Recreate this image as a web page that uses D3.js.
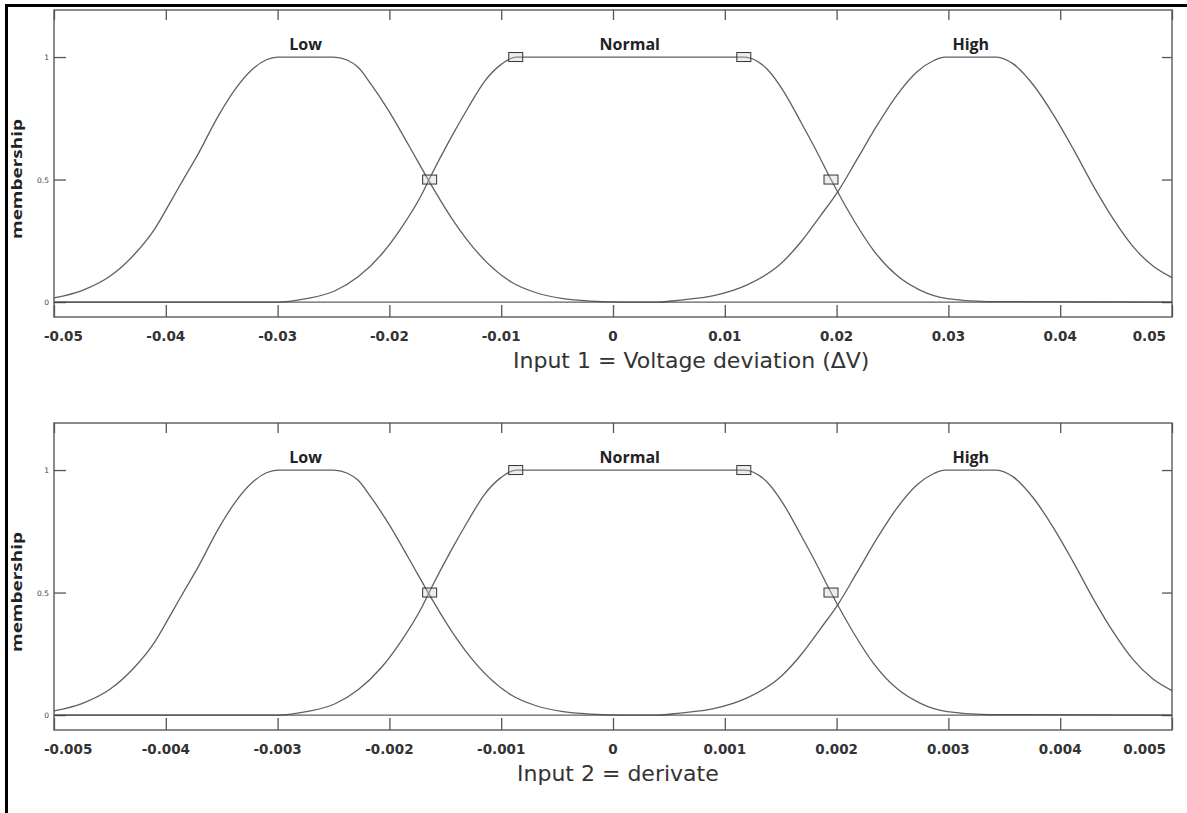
<!DOCTYPE html>
<html>
<head>
<meta charset="utf-8">
<script src="https://cdn.jsdelivr.net/npm/d3@7"></script>
<style>
    body { margin: 0; background: #fff; }
</style>
</head>
<body>
<svg id="chart"></svg>
<script>
// membership values (same shape in both panels)
var lowY    = [0.017, 0.047, 0.105, 0.195, 0.298, 0.415, 0.503, 0.605, 0.76, 0.868, 0.948, 0.989, 1, 1, 0.988, 0.958, 0.886, 0.783, 0.642, 0.497, 0.347, 0.251, 0.158, 0.082, 0.04, 0.015, 0.004, 0, 0]
var normalY = [0, 0, 0.015, 0.045, 0.103, 0.195, 0.305, 0.44, 0.505, 0.67, 0.79, 0.9, 0.97, 1, 1, 0.95, 0.857, 0.735, 0.634, 0.5, 0.333, 0.211, 0.108, 0.048, 0.014, 0.002, 0]
var highY   = [0, 0, 0.008, 0.026, 0.07, 0.156, 0.245, 0.355, 0.45, 0.58, 0.72, 0.845, 0.94, 0.986, 1, 1, 0.972, 0.886, 0.764, 0.622, 0.471, 0.335, 0.227, 0.147, 0.1]

// input 1 : voltage deviation
var lowX1    = [-0.05, -0.0475, -0.045, -0.0428, -0.041, -0.0395, -0.0384, -0.0371, -0.0353, -0.0338, -0.0323, -0.031, -0.03, -0.025, -0.0238, -0.0228, -0.0216, -0.0201, -0.0183, -0.0165, -0.0145, -0.013, -0.0112, -0.0091, -0.007, -0.0046, -0.002, 0.001, 0.05]
var normalX1 = [-0.05, -0.03, -0.0273, -0.0249, -0.0228, -0.0207, -0.0189, -0.0171, -0.0164, -0.0145, -0.013, -0.0115, -0.01, -0.0087, 0.0117, 0.0138, 0.0153, 0.0168, 0.018, 0.0195, 0.02155, 0.0233, 0.0254, 0.0275, 0.0299, 0.0335, 0.05]
var highX1   = [-0.05, 0.004, 0.006, 0.009, 0.012, 0.015, 0.0168, 0.0186, 0.0201, 0.0218, 0.0236, 0.0254, 0.0272, 0.0287, 0.0297, 0.0343, 0.0358, 0.0376, 0.0394, 0.0412, 0.043, 0.0448, 0.0465, 0.0483, 0.05]

// input 2 : derivate
var lowX2    = [-0.005, -0.00475, -0.0045, -0.00428, -0.0041, -0.00395, -0.00384, -0.00371, -0.00353, -0.00338, -0.00323, -0.0031, -0.003, -0.0025, -0.00238, -0.00228, -0.00216, -0.00201, -0.00183, -0.00165, -0.00145, -0.0013, -0.00112, -0.00091, -0.0007, -0.00046, -0.0002, 0.0001, 0.005]
var normalX2 = [-0.005, -0.003, -0.00273, -0.00249, -0.00228, -0.00207, -0.00189, -0.00171, -0.00164, -0.00145, -0.0013, -0.00115, -0.001, -0.00087, 0.00117, 0.00138, 0.00153, 0.00168, 0.0018, 0.00195, 0.002155, 0.00233, 0.00254, 0.00275, 0.00299, 0.00335, 0.005]
var highX2   = [-0.005, 0.0004, 0.0006, 0.0009, 0.0012, 0.0015, 0.00168, 0.00186, 0.00201, 0.00218, 0.00236, 0.00254, 0.00272, 0.00287, 0.00297, 0.00343, 0.00358, 0.00376, 0.00394, 0.00412, 0.0043, 0.00448, 0.00465, 0.00483, 0.005]

// markers on the Normal function
var markerY  = [0.5, 1, 1, 0.5]
var markerX1 = [-0.0164, -0.0087, 0.0117, 0.0195]
var markerX2 = [-0.00164, -0.00087, 0.00117, 0.00195]

var mfNames = ['Low', 'Normal', 'High']
var nameX1 = [-0.0275, 0.0015, 0.032]
var nameX2 = [-0.00275, 0.00015, 0.0032]

var ticks1 = [-0.05, -0.04, -0.03, -0.02, -0.01, 0, 0.01, 0.02, 0.03, 0.04, 0.05]
var tickLabels1 = ['-0.05', '-0.04', '-0.03', '-0.02', '-0.01', '0', '0.01', '0.02', '0.03', '0.04', '0.05']
var ticks2 = [-0.005, -0.004, -0.003, -0.002, -0.001, 0, 0.001, 0.002, 0.003, 0.004, 0.005]
var tickLabels2 = ['-0.005', '-0.004', '-0.003', '-0.002', '-0.001', '0', '0.001', '0.002', '0.003', '0.004', '0.005']
var yTicks = [0, 0.5, 1]
var yTickLabels = ['0', '0.5', '1']

var width = 1187,
    height = 813

var svg = d3.select('#chart')
    .attr('width', width)
    .attr('height', height)

svg.append('rect')
    .attr('width', width)
    .attr('height', height)
    .attr('fill', '#fff')

// outer border (left and top only)
svg.append('path')
    .attr('d', 'M6.5,' + height + 'V5.5H' + width)
    .attr('fill', 'none')
    .attr('stroke', '#000')
    .attr('stroke-width', 3)

function zipPts(xs, ys) {
    return xs.map(function (d, i) { return [d, ys[i]] })
}

function drawPanel(top, opt) {
    var left = 54, right = 1172,
        h = 307

    var x = d3.scaleLinear().domain([opt.ticks[0], opt.ticks[opt.ticks.length - 1]]).range([left, right])
    var y = d3.scaleLinear().domain([-0.061, 1.192]).range([top + h, top])

    var g = svg.append('g')

    // frame
    g.append('rect')
        .attr('x', left)
        .attr('y', top)
        .attr('width', right - left)
        .attr('height', h)
        .attr('fill', 'none')
        .attr('stroke', '#666')
        .attr('stroke-width', 1.5)

    // inward ticks, top / bottom / left / right
    var axB = d3.axisTop(x).tickValues(opt.ticks).tickSize(12).tickFormat('')
    var axT = d3.axisBottom(x).tickValues(opt.ticks).tickSize(10).tickFormat('')
    var axL = d3.axisRight(y).tickValues(yTicks).tickSize(12).tickFormat('')
    var axR = d3.axisLeft(y).tickValues(yTicks).tickSize(10).tickFormat('')
    g.append('g').attr('transform', 'translate(0,' + (top + h) + ')').call(axB)
    g.append('g').attr('transform', 'translate(0,' + top + ')').call(axT)
    g.append('g').attr('transform', 'translate(' + left + ',0)').call(axL)
    g.append('g').attr('transform', 'translate(' + right + ',0)').call(axR)
    g.selectAll('.domain').remove()
    g.selectAll('.tick line').attr('stroke', '#555').attr('stroke-width', 1.3)

    // x tick labels, end labels pulled inside like the original
    g.selectAll('.xlab')
        .data(opt.ticks)
        .enter()
        .append('text')
        .attr('class', 'xlab')
        .attr('x', function (d, i) {
            if (i == 0) return x(d) - 10
            if (i == opt.ticks.length - 1) return x(d) - 6
            return x(d)
        })
        .attr('y', top + h + 24)
        .attr('text-anchor', function (d, i) {
            if (i == 0) return 'start'
            if (i == opt.ticks.length - 1) return 'end'
            return 'middle'
        })
        .style('font-family', 'DejaVu Sans')
        .style('font-weight', 'bold')
        .style('font-size', '13.5px')
        .attr('fill', '#333')
        .text(function (d, i) { return opt.tickLabels[i] })

    g.selectAll('.ylab')
        .data(yTicks)
        .enter()
        .append('text')
        .attr('x', left - 5)
        .attr('y', function (d) { return y(d) + 3 })
        .attr('text-anchor', 'end')
        .style('font-family', 'DejaVu Sans')
        .style('font-size', '7.5px')
        .attr('fill', '#444')
        .text(function (d, i) { return yTickLabels[i] })

    // membership functions
    var line = d3.line()
        .x(function (d) { return x(d[0]) })
        .y(function (d) { return y(d[1]) })
        .curve(d3.curveMonotoneX)

    opt.curves.forEach(function (c) {
        g.append('path')
            .datum(c)
            .attr('d', line)
            .attr('fill', 'none')
            .attr('stroke', '#444')
            .attr('stroke-opacity', 0.85)
            .attr('stroke-width', 1.3)
    })

    g.selectAll('.marker')
        .data(zipPts(opt.markerX, markerY))
        .enter()
        .append('rect')
        .attr('x', function (d) { return x(d[0]) - 7 })
        .attr('y', function (d) { return y(d[1]) - 4.5 })
        .attr('width', 14)
        .attr('height', 9)
        .attr('fill', '#ccc')
        .attr('fill-opacity', 0.35)
        .attr('stroke', '#333')
        .attr('stroke-width', 1)

    g.selectAll('.mfname')
        .data(mfNames)
        .enter()
        .append('text')
        .attr('x', function (d, i) { return x(opt.nameX[i]) })
        .attr('y', y(1) - 7)
        .attr('text-anchor', 'middle')
        .style('font-family', 'Open Sans')
        .style('font-weight', 'bold')
        .style('font-size', '16px')
        .attr('fill', '#222')
        .text(function (d) { return d })

    g.append('text')
        .attr('transform', 'translate(22,' + (top + 169) + ') rotate(-90)')
        .attr('text-anchor', 'middle')
        .style('font-family', 'Open Sans')
        .style('font-weight', 'bold')
        .style('font-size', '15px')
        .attr('textLength', 120)
        .attr('lengthAdjust', 'spacingAndGlyphs')
        .attr('fill', '#222')
        .text('membership')

    g.append('text')
        .attr('x', opt.titleX)
        .attr('y', top + h + 51)
        .style('font-family', 'DejaVu Sans')
        .style('font-size', '22px')
        .attr('fill', '#333')
        .text(opt.title)
}

drawPanel(10, {
    ticks: ticks1,
    tickLabels: tickLabels1,
    curves: [zipPts(lowX1, lowY), zipPts(normalX1, normalY), zipPts(highX1, highY)],
    markerX: markerX1,
    nameX: nameX1,
    title: 'Input 1 = Voltage deviation (\u0394V)',
    titleX: 513
})

drawPanel(423, {
    ticks: ticks2,
    tickLabels: tickLabels2,
    curves: [zipPts(lowX2, lowY), zipPts(normalX2, normalY), zipPts(highX2, highY)],
    markerX: markerX2,
    nameX: nameX2,
    title: 'Input 2 = derivate',
    titleX: 517
})
</script>
</body>
</html>
